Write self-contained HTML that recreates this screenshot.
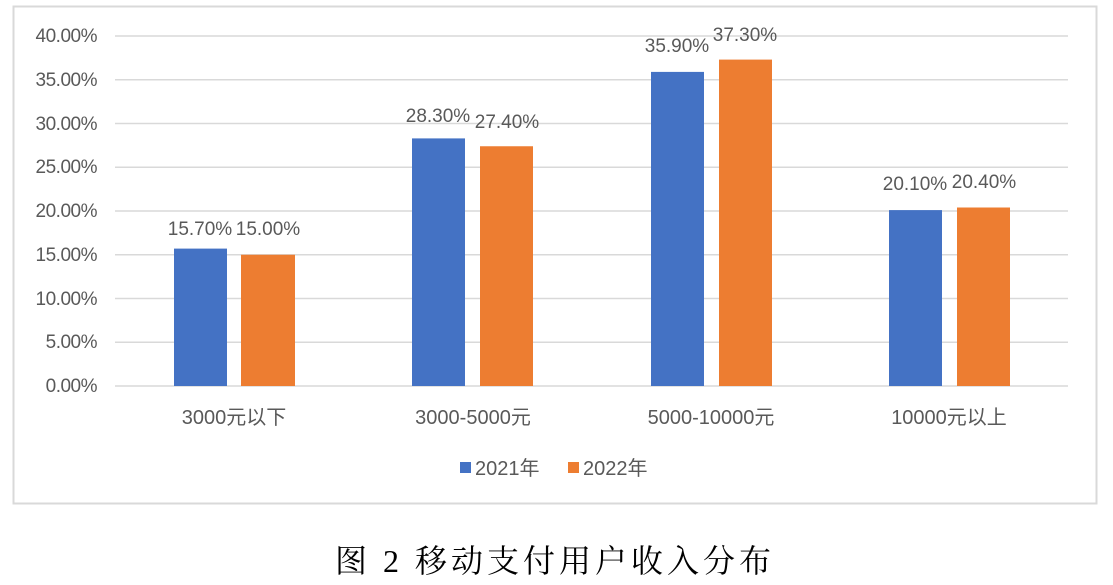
<!DOCTYPE html>
<html><head><meta charset="utf-8"><style>
body{margin:0;background:#fff;width:1113px;height:585px;overflow:hidden}
svg{display:block}
text{font-family:"Liberation Sans","Noto Sans CJK SC",sans-serif;fill:#595959}
</style></head><body>
<svg width="1113" height="585" viewBox="0 0 1113 585">
<rect x="13.5" y="6.5" width="1083" height="497" fill="#fff" stroke="#d9d9d9" stroke-width="2"/>
<g stroke="#d9d9d9" stroke-width="1.5">
<line x1="115" x2="1068" y1="36" y2="36"/><line x1="115" x2="1068" y1="79.75" y2="79.75"/>
<line x1="115" x2="1068" y1="123.5" y2="123.5"/><line x1="115" x2="1068" y1="167.25" y2="167.25"/>
<line x1="115" x2="1068" y1="211" y2="211"/><line x1="115" x2="1068" y1="254.75" y2="254.75"/>
<line x1="115" x2="1068" y1="298.5" y2="298.5"/><line x1="115" x2="1068" y1="342.25" y2="342.25"/>
<line x1="115" x2="1068" y1="386" y2="386"/>
</g>
<g font-size="19" text-anchor="end" letter-spacing="-0.5">
<text x="97" y="42">40.00%</text><text x="97" y="86">35.00%</text><text x="97" y="130">30.00%</text>
<text x="97" y="173">25.00%</text><text x="97" y="217">20.00%</text><text x="97" y="261">15.00%</text>
<text x="97" y="305">10.00%</text><text x="97" y="348">5.00%</text><text x="97" y="392">0.00%</text>
</g>
<g fill="#4472c4">
<rect x="174" y="248.6" width="53" height="137.4"/>
<rect x="412" y="138.4" width="53" height="247.6"/>
<rect x="651" y="71.9" width="53" height="314.1"/>
<rect x="889" y="210.1" width="53" height="175.9"/>
</g>
<g fill="#ed7d31">
<rect x="241" y="254.75" width="54" height="131.25"/>
<rect x="480" y="146.25" width="53" height="239.75"/>
<rect x="719" y="59.6" width="53" height="326.4"/>
<rect x="957" y="207.5" width="53" height="178.5"/>
</g>
<g font-size="19" text-anchor="middle" style="fill:#404040">
<text x="200" y="235">15.70%</text><text x="268" y="235">15.00%</text>
<text x="438" y="122">28.30%</text><text x="507" y="128">27.40%</text>
<text x="677" y="52">35.90%</text><text x="745" y="41">37.30%</text>
<text x="915" y="190">20.10%</text><text x="984" y="188">20.40%</text>
</g>
<g font-size="20" text-anchor="middle">
<text x="234" y="424">3000元以下</text><text x="473" y="424">3000-5000元</text>
<text x="711" y="424">5000-10000元</text><text x="949" y="424">10000元以上</text>
</g>
<rect x="460" y="462" width="11" height="11" fill="#4472c4"/>
<text x="475" y="475" font-size="20">2021年</text>
<rect x="568" y="462" width="11" height="11" fill="#ed7d31"/>
<text x="583" y="475" font-size="20">2022年</text>
<text x="555" y="572" font-size="32" text-anchor="middle" letter-spacing="4" style="font-family:'Liberation Serif','Noto Serif CJK SC',serif;fill:#000">图 2  移动支付用户收入分布</text>
</svg>
</body></html>
